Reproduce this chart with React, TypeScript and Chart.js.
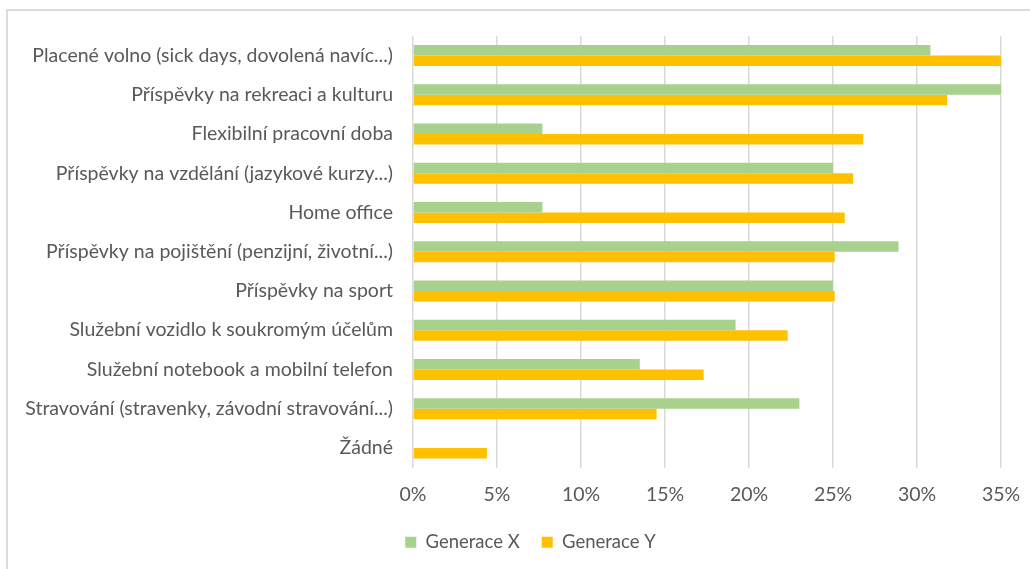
import React, { useEffect, useRef } from "react";
import { Chart, registerables } from "chart.js";

Chart.register(...registerables);

const categories = [
  "Placené volno (sick days, dovolená navíc...)",
  "Příspěvky na rekreaci a kulturu",
  "Flexibilní pracovní doba",
  "Příspěvky na vzdělání (jazykové kurzy...)",
  "Home office",
  "Příspěvky na pojištění (penzijní, životní...)",
  "Příspěvky na sport",
  "Služební vozidlo k soukromým účelům",
  "Služební notebook a mobilní telefon",
  "Stravování (stravenky, závodní stravování...)",
  "Žádné",
];

const seriesNames = ["Generace X", "Generace Y"];
const generaceX = [30.8, 35.0, 7.7, 25.0, 7.7, 28.9, 25.0, 19.2, 13.5, 23.0, 0];
const generaceY = [35.0, 31.8, 26.8, 26.2, 25.7, 25.1, 25.1, 22.3, 17.3, 14.5, 4.4];

const xMin = 0;
const xMax = 35;
const xStep = 5;

const FONT = "Lato, 'Open Sans', sans-serif";
const TEXT = "#595959";
const GRID = "#d9d9d9";

const legendPlace = {
  id: "legendPlace",
  afterLayout(chart: any) {
    const l = chart.legend;
    if (l) {
      l.left += 30;
      l.right += 30;
      const h = l.bottom - l.top;
      l.top = 511;
      l.bottom = l.top + h;
    }
  },
};

export default function App() {
  const ref = useRef<HTMLCanvasElement | null>(null);

  useEffect(() => {
    if (!ref.current) return;
    const chart = new Chart(ref.current, {
      type: "bar",
      data: {
        labels: categories,
        datasets: [
          {
            label: seriesNames[0],
            data: generaceX,
            backgroundColor: "#A9D18E",
            borderWidth: 0,
            barPercentage: 1,
            categoryPercentage: 0.535,
          },
          {
            label: seriesNames[1],
            data: generaceY,
            backgroundColor: "#FFC000",
            borderWidth: 0,
            barPercentage: 1,
            categoryPercentage: 0.535,
          },
        ],
      },
      plugins: [legendPlace],
      options: {
        indexAxis: "y",
        animation: false,
        responsive: false,
        maintainAspectRatio: false,
        layout: { padding: { left: 0, right: 29, top: 36, bottom: 0 } },
        plugins: {
          tooltip: { enabled: false },
          legend: {
            position: "bottom",
            labels: {
              color: TEXT,
              font: { family: FONT, size: 18.5 },
              boxWidth: 11,
              boxHeight: 11,
              padding: 22,
            },
          },
        },
        scales: {
          x: {
            min: xMin,
            max: xMax,
            grid: { color: GRID, lineWidth: 1.5, drawTicks: false },
            border: { display: false },
            ticks: {
              stepSize: xStep,
              padding: 16,
              color: TEXT,
              font: { family: FONT, size: 19.5 },
              callback: (v: any) => v + "%",
            },
            afterFit: (s: any) => {
              s.height = 51;
              s.paddingRight = 0;
              s.paddingLeft = 0;
            },
          },
          y: {
            grid: { display: false, drawTicks: false },
            border: { display: false },
            ticks: {
              padding: 20,
              color: TEXT,
              font: { family: FONT, size: 19.5 },
              autoSkip: false,
            },
            afterFit: (s: any) => {
              s.width = 413;
            },
          },
        },
      },
    });
    return () => chart.destroy();
  }, []);

  return (
    <div
      style={{
        position: "fixed",
        left: 0,
        top: 0,
        width: 1030,
        height: 569,
        overflow: "hidden",
        background: "#fff",
      }}
    >
      <div
        style={{
          position: "absolute",
          left: 6,
          top: 9,
          width: 1100,
          height: 700,
          border: "2px solid #dcdcdc",
        }}
      />
      <canvas
        ref={ref}
        width={1030}
        height={569}
        style={{ position: "absolute", left: 0, top: 0, width: 1030, height: 569 }}
      />
    </div>
  );
}
